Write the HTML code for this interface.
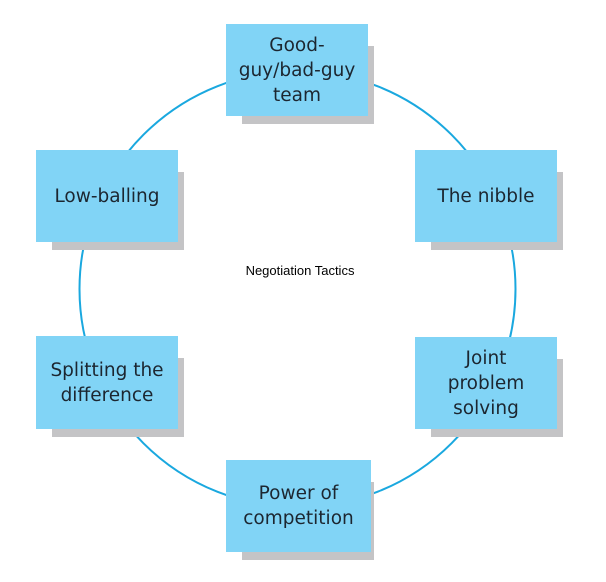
<!DOCTYPE html>
<html><head><style>
html,body{margin:0;padding:0;background:#fff}
body{width:606px;height:582px;position:relative;overflow:hidden;font-family:"Liberation Sans",sans-serif}
.s{position:absolute;background:#c4c4c6}
.b{position:absolute;width:142px;height:92px;background:#81d4f6;display:flex;align-items:center;justify-content:center;text-align:center;font-family:"DejaVu Sans","Liberation Sans",sans-serif;font-size:18.5px;line-height:25px;color:#1c2630}
</style></head><body>
<svg width="606" height="582" style="position:absolute;left:0;top:0">
<circle cx="297.5" cy="289" r="218" fill="none" stroke="#1aa8df" stroke-width="2"/>
</svg>
<div class="s" style="left:242px;top:46px;width:132px;height:78px"></div>
<div class="b" style="left:226px;top:24px">Good-<br>guy/bad-guy<br>team</div>
<div class="s" style="left:52px;top:172px;width:132px;height:78px"></div>
<div class="b" style="left:36px;top:150px">Low-balling</div>
<div class="s" style="left:431px;top:172px;width:132px;height:78px"></div>
<div class="b" style="left:415px;top:150px">The nibble</div>
<div class="s" style="left:52px;top:358px;width:132px;height:79px"></div>
<div class="b" style="left:36px;top:336px;height:93px">Splitting the<br>difference</div>
<div class="s" style="left:431px;top:359px;width:132px;height:78px"></div>
<div class="b" style="left:415px;top:337px">Joint<br>problem<br>solving</div>
<div class="s" style="left:242px;top:482px;width:132px;height:78px"></div>
<div class="b" style="left:226px;top:460px;width:145px">Power of<br>competition</div>
<div style="position:absolute;left:200px;top:263px;width:200px;text-align:center;font-size:13px;color:#000">Negotiation Tactics</div>
</body></html>
